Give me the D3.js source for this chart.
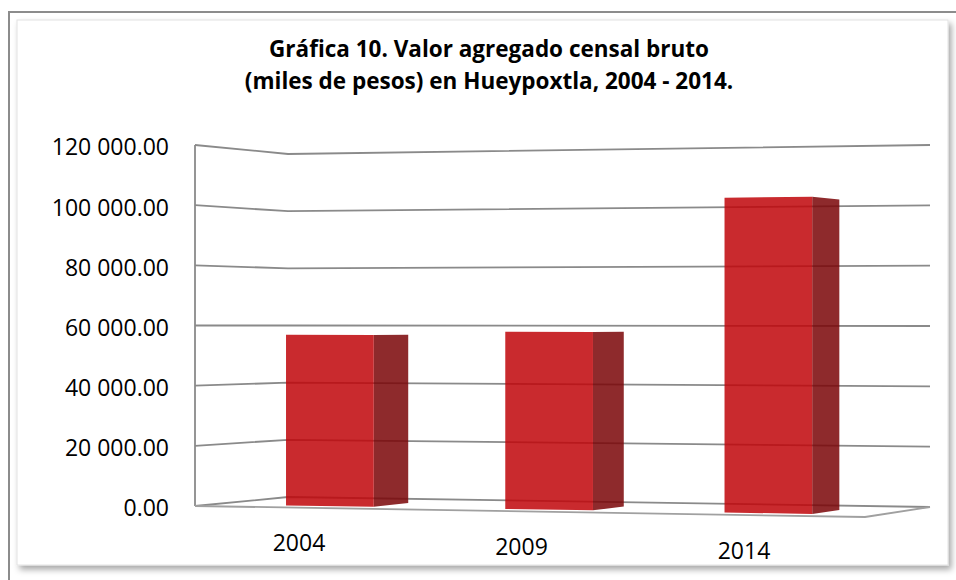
<!DOCTYPE html>
<html>
<head>
  <meta charset="utf-8">
  <script src="https://d3js.org/d3.v7.min.js"></script>
  <style>
    body { margin: 0; background: #fff; }
  </style>
</head>
<body>
  <div id="chart"></div>
  <script>
    // data
    var years = ["2004", "2009", "2014"];
    var values = [56900, 58000, 101200];
    var tickValues = [0, 20000, 40000, 60000, 80000, 100000, 120000];
    var tickLabels = ["0.00", "20 000.00", "40 000.00", "60 000.00", "80 000.00", "100 000.00", "120 000.00"];
    var titleLines = ["Gráfica 10. Valor agregado censal bruto", "(miles de pesos) en Hueypoxtla, 2004 - 2014."];

    var width = 956, height = 580;
    var font = "'Open Sans', 'Liberation Sans', sans-serif";

    // screen corners of the 3d plot box, floor (value 0) and roof (top of axis)
    var floorC = { fl: [195, 506], bl: [288, 497], br: [930, 507], fr: [865, 517] };
    var roofC  = { fl: [195, 145], bl: [288, 154], br: [930, 145], fr: [865, 135] };

    var x = d3.scaleBand()
      .domain(years)
      .range([0.01, 1])
      .paddingInner(0.6)
      .paddingOuter(0.3);

    var y = d3.scaleLinear()
      .domain([0, 120000])
      .range([0, 1]);

    // u = across categories, w = depth (0 front, 1 back)
    function quad(c, u, w) {
      return [
        (1 - u) * (1 - w) * c.fl[0] + (1 - u) * w * c.bl[0] + u * w * c.br[0] + u * (1 - w) * c.fr[0],
        (1 - u) * (1 - w) * c.fl[1] + (1 - u) * w * c.bl[1] + u * w * c.br[1] + u * (1 - w) * c.fr[1]
      ];
    }
    function proj(u, w, v) {
      var t = y(v), a = quad(floorC, u, w), b = quad(roofC, u, w);
      return [a[0] + (b[0] - a[0]) * t, a[1] + (b[1] - a[1]) * t];
    }
    var line = d3.line();

    var svg = d3.select("#chart")
      .append("svg")
      .attr("width", width)
      .attr("height", height);

    var defs = svg.append("defs");
    var shadow = defs.append("filter").attr("id", "shadow")
      .attr("x", "-2%").attr("y", "-2%").attr("width", "104%").attr("height", "106%");
    shadow.append("feDropShadow")
      .attr("dx", 3).attr("dy", 4)
      .attr("stdDeviation", 3)
      .attr("flood-color", "#000")
      .attr("flood-opacity", 0.35);

    // outer frame and panel
    svg.append("rect")
      .attr("x", 9).attr("y", 12)
      .attr("width", 960).attr("height", 600)
      .attr("fill", "#fff")
      .attr("stroke", "#8c8c8c")
      .attr("stroke-width", 2);

    svg.append("rect")
      .attr("x", 17).attr("y", 20)
      .attr("width", 931).attr("height", 545)
      .attr("fill", "#fff")
      .attr("stroke", "#e2e2e2")
      .attr("stroke-width", 1)
      .attr("filter", "url(#shadow)");

    // title
    svg.append("text")
      .attr("x", 489)
      .attr("y", 57)
      .attr("text-anchor", "middle")
      .style("font-family", font)
      .style("font-size", "22.5px")
      .style("font-weight", "bold")
      .selectAll("tspan")
      .data(titleLines)
      .enter()
      .append("tspan")
      .attr("x", 489)
      .attr("dy", function(d, i) { return i === 0 ? 0 : 32; })
      .text(function(d) { return d; });

    // walls: gridlines on left side wall and back wall
    var grid = svg.append("g")
      .attr("fill", "none")
      .attr("stroke", "#8a8a8a")
      .attr("stroke-width", 1.8)
      .attr("stroke-linejoin", "round");

    grid.selectAll("path.grid")
      .data(tickValues)
      .enter()
      .append("path")
      .attr("class", "grid")
      .attr("d", function(v) {
        return line([proj(0, 0, v), proj(0, 1, v), proj(1, 1, v)]);
      });

    // value axis line
    grid.append("path")
      .attr("d", line([proj(0, 0, 0), proj(0, 0, y.domain()[1])]));

    // floor front and right edges
    grid.append("path")
      .attr("stroke", "#a0a0a0")
      .attr("d", line([proj(0, 0, 0), proj(1, 0, 0), proj(1, 1, 0)]));

    // tick labels
    svg.append("g")
      .selectAll("text")
      .data(tickValues)
      .enter()
      .append("text")
      .attr("x", function(v) { return proj(0, 0, v)[0] - 26; })
      .attr("y", function(v) { return proj(0, 0, v)[1]; })
      .attr("dy", "0.45em")
      .attr("text-anchor", "end")
      .style("font-family", font)
      .style("font-size", "23px")
      .style("fill", "#000")
      .text(function(v, i) { return tickLabels[i]; });

    // bars: front face + right side face
    var w0 = 0.2, w1 = 0.6;
    var bars = svg.append("g")
      .selectAll("g")
      .data(years)
      .enter()
      .append("g");

    bars.append("path")
      .attr("fill", "rgb(122,5,7)")
      .attr("fill-opacity", 0.85)
      .attr("d", function(d, i) {
        var u = x(d) + x.bandwidth();
        return line([proj(u, w0, 0), proj(u, w1, 0), proj(u, w1, values[i]), proj(u, w0, values[i])]) + "Z";
      });

    bars.append("path")
      .attr("fill", "rgb(192,5,9)")
      .attr("fill-opacity", 0.85)
      .attr("d", function(d, i) {
        var u0 = x(d), u1 = x(d) + x.bandwidth();
        return line([proj(u0, w0, 0), proj(u1, w0, 0), proj(u1, w0, values[i]), proj(u0, w0, values[i])]) + "Z";
      });

    // category labels
    svg.append("g")
      .selectAll("text")
      .data(years)
      .enter()
      .append("text")
      .attr("x", function(d) { return proj(x(d) + x.bandwidth() / 2, -0.15, 0)[0]; })
      .attr("y", function(d) { return proj(x(d) + x.bandwidth() / 2, -0.15, 0)[1] + 42; })
      .attr("text-anchor", "middle")
      .style("font-family", font)
      .style("font-size", "23px")
      .style("fill", "#000")
      .text(function(d) { return d; });
  </script>
</body>
</html>
